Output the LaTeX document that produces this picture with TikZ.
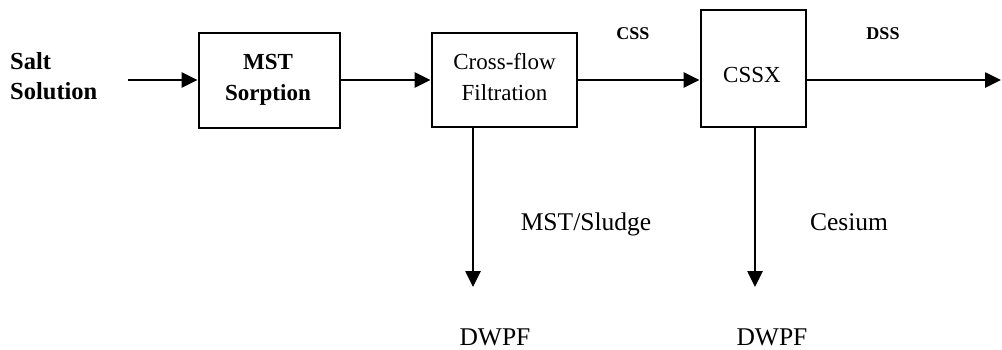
\documentclass[tikz,border=0pt]{standalone}
\usepackage{fontspec}
\setmainfont{Liberation Serif}
\usetikzlibrary{arrows.meta}

\tikzset{
  x=1pt, y=-1pt,
  box/.style={draw, line width=2.8pt, inner sep=0pt},
  flow/.style={draw, line width=2.6pt, -{Triangle[length=16pt,width=15pt]}},
  boxtext/.style={align=center, font=\fontsize{23}{31}\selectfont, inner sep=0pt},
  boldtext/.style={align=center, font=\fontsize{23}{31}\selectfont\bfseries, inner sep=0pt},
  feedtext/.style={align=left, font=\fontsize{24.5}{30}\selectfont\bfseries, inner sep=0pt},
  streamtag/.style={font=\fontsize{18}{20}\selectfont\bfseries, inner sep=0pt},
  outtext/.style={font=\fontsize{25.5}{28}\selectfont, inner sep=0pt},
}

\begin{document}
\begin{tikzpicture}
  \useasboundingbox (0,0) rectangle (1002,349);

  % feed label
  \node[feedtext, anchor=base west] (salt) at (10,99) {Salt\\Solution};
  \coordinate (feed) at (128,80);

  % process units
  \node[box, minimum width=141pt, minimum height=95pt] (mst) at (269.5,80.5) {};
  \node[boldtext, anchor=base] (msttext) at (268,100) {MST\\Sorption};

  \node[box, minimum width=145pt, minimum height=94pt] (cff) at (504.5,80) {};
  \node[boxtext, anchor=base] (cfftext) at (504.5,100) {Cross-flow\\Filtration};

  \node[box, minimum width=105pt, minimum height=117pt] (cssx) at (753.5,68.5) {};
  \node[boxtext, anchor=base] (cssxtext) at (752,82) {CSSX};

  % free ends of the product streams
  \coordinate (dssout) at (1001,80);
  \coordinate (sludgeout) at (473,287);
  \coordinate (csout) at (755,287);

  % main flow line
  \draw[flow] (feed) -- (mst.west |- feed);
  \draw[flow] (mst.east |- feed) -- (cff.west |- feed);
  \draw[flow] (cff.east |- feed) -- (cssx.west |- feed);
  \draw[flow] (cssx.east |- feed) -- (dssout);

  % side streams
  \draw[flow] (cff.south -| sludgeout) -- (sludgeout);
  \draw[flow] (cssx.south -| csout) -- (csout);

  % stream labels
  \node[streamtag, anchor=base] (css) at (633,39) {CSS};
  \node[streamtag, anchor=base] (dss) at (883,39) {DSS};
  \node[outtext, anchor=base] (sludge) at (586,230) {MST/Sludge};
  \node[outtext, anchor=base] (cesium) at (849,230) {Cesium};
  \node[outtext, anchor=base] (dwpfa) at (495,345) {DWPF};
  \node[outtext, anchor=base] (dwpfb) at (772,345) {DWPF};
\end{tikzpicture}
\end{document}
